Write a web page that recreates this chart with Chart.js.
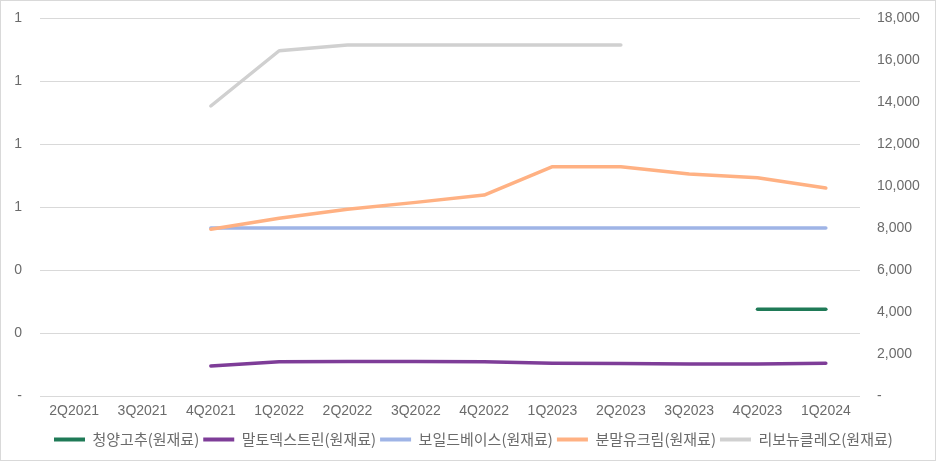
<!DOCTYPE html>
<html>
<head>
<meta charset="utf-8">
<script src="https://cdn.jsdelivr.net/npm/chart.js@4/dist/chart.umd.min.js"></script>
<style>
  html, body { margin: 0; padding: 0; background: #fff; }
  canvas { display: block; }
</style>
</head>
<body>
<canvas id="c" width="936" height="461"></canvas>
<script>
const categories = ['2Q2021','3Q2021','4Q2021','1Q2022','2Q2022','3Q2022','4Q2022','1Q2023','2Q2023','3Q2023','4Q2023','1Q2024'];
const seriesNames = ['청양고추(원재료)','말토덱스트린(원재료)','보일드베이스(원재료)','분말유크림(원재료)','리보뉴클레오(원재료)'];
const cheongyang = [null,null,null,null,null,null,null,null,null,null,4130,4130];
const maltodextrin = [null,null,1430,1630,1640,1640,1630,1560,1550,1520,1520,1560];
const boiledBase = [null,null,8000,8000,8000,8000,8000,8000,8000,8000,8000,8000];
const creamPowder = [null,null,7940,8460,8890,9220,9570,10920,10920,10570,10390,9900];
const ribonucleo = [null,null,13810,16440,16710,16710,16710,16710,16710,null,null,null];
const seriesColors = ['#1f7a57','#7e3d98','#9fb4e6','#ffb183','#d0d0d0'];
const seriesData = [cheongyang, maltodextrin, boiledBase, creamPowder, ribonucleo];

const tickFont = { family: 'Liberation Sans', size: 14 };
const tickColor = '#6b6b6b';

const borderPlugin = {
  id: 'outerBorder',
  afterLayout(chart) {
    const lg = chart.legend;
    if (lg) {
      const shift = 50 - lg.left;
      lg.left += shift; lg.right += shift;
    }
  },
  afterDraw(chart) {
    const ctx = chart.ctx;
    ctx.save();
    ctx.strokeStyle = '#d9d9d9';
    ctx.lineWidth = 1;
    ctx.strokeRect(0.5, 0.5, chart.width - 1, chart.height - 1);
    ctx.restore();
  }
};

new Chart(document.getElementById('c'), {
  type: 'line',
  data: {
    labels: categories,
    datasets: seriesData.map((d, i) => ({
      label: seriesNames[i],
      data: d,
      yAxisID: 'y2',
      borderColor: seriesColors[i],
      backgroundColor: seriesColors[i],
      borderWidth: 3.5,
      borderCapStyle: 'round',
      borderJoinStyle: 'round',
      pointRadius: 0,
      tension: 0,
      spanGaps: false,
      order: seriesData.length - i
    }))
  },
  options: {
    responsive: false,
    devicePixelRatio: 1,
    animation: false,
    layout: { padding: { top: 18, bottom: 4, left: 0, right: 0 } },
    plugins: {
      tooltip: { enabled: false },
      legend: {
        position: 'bottom',
        align: 'start',
        labels: {
          font: { family: 'Noto Sans CJK KR', size: 15 },
          color: '#6b6b6b',
          boxWidth: 31,
          boxHeight: 4,
          padding: 4,
          generateLabels(chart) {
            return chart.data.datasets.map((ds, i) => ({
              text: ds.label,
              fillStyle: ds.borderColor,
              strokeStyle: ds.borderColor,
              lineWidth: 0,
              hidden: false,
              datasetIndex: i,
              fontColor: '#6b6b6b'
            }));
          }
        }
      }
    },
    scales: {
      x: {
        offset: true,
        grid: { display: false, drawTicks: false },
        border: { display: false },
        ticks: { font: tickFont, color: tickColor, padding: 7, maxRotation: 0, autoSkip: false },
        afterFit(s) { s.height = 32; }
      },
      y: {
        position: 'left',
        min: 0, max: 1.2,
        ticks: {
          stepSize: 0.2,
          font: tickFont, color: tickColor, padding: 18,
          callback: v => (Math.abs(v) < 1e-9 ? '-' : String(Math.round(v)))
        },
        grid: { color: '#d9d9d9', lineWidth: 1, drawTicks: false },
        border: { display: false },
        afterFit(s) { s.width = 40; s.paddingTop = 0; s.paddingBottom = 0; }
      },
      y2: {
        position: 'right',
        min: 0, max: 18000,
        ticks: {
          stepSize: 2000,
          font: tickFont, color: tickColor, padding: 17,
          callback: v => (v === 0 ? '-' : v.toLocaleString('en-US'))
        },
        grid: { display: false, drawTicks: false },
        border: { display: false },
        afterFit(s) { s.width = 76; s.paddingTop = 0; s.paddingBottom = 0; }
      }
    }
  },
  plugins: [borderPlugin]
});
</script>
</body>
</html>
